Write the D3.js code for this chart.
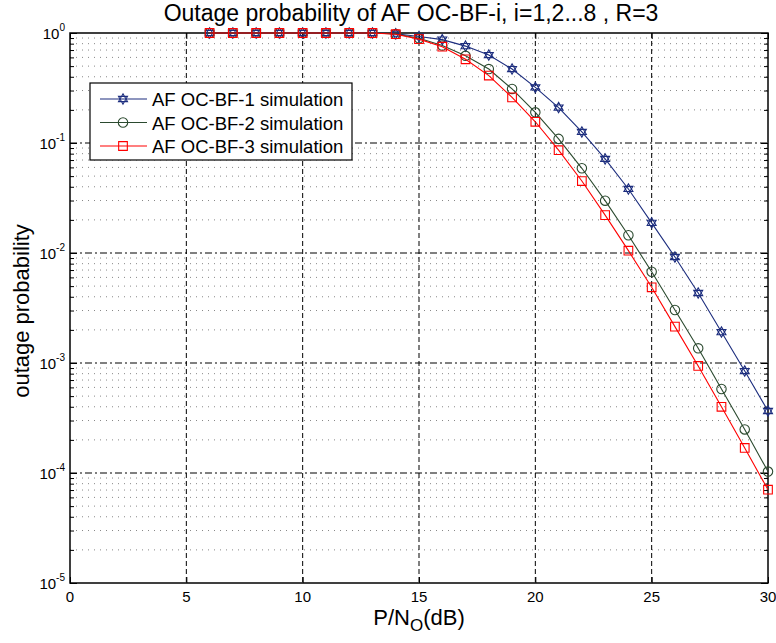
<!DOCTYPE html>
<html>
<head>
<meta charset="utf-8">
<script src="https://cdn.jsdelivr.net/npm/d3@7"></script>
<style>
  body { margin: 0; background: #fff; }
  svg { font-family: "Liberation Sans", Arial, sans-serif; }
</style>
</head>
<body>
<svg id="chart" width="776" height="643"></svg>
<script>
const snr = [6, 7, 8, 9, 10, 11, 12, 13, 14, 15, 16, 17, 18, 19, 20, 21, 22, 23, 24, 25, 26, 27, 28, 29, 30];
const bf1 = [1, 1, 1, 1, 1, 1, 1, 1, 0.985, 0.93, 0.87, 0.76, 0.63, 0.47, 0.32, 0.21, 0.126, 0.0716, 0.0382, 0.0188, 0.0092, 0.00433, 0.00191, 0.000845, 0.000366];
const bf2 = [1, 1, 1, 1, 1, 1, 1, 1, 0.98, 0.895, 0.77, 0.62, 0.47, 0.31, 0.19, 0.109, 0.0589, 0.0299, 0.0145, 0.00676, 0.00303, 0.00136, 0.00058, 0.000249, 0.000103];
const bf3 = [1, 1, 1, 1, 1, 1, 1, 1, 0.975, 0.88, 0.75, 0.577, 0.41, 0.26, 0.156, 0.086, 0.0451, 0.0221, 0.0105, 0.00488, 0.00214, 0.00094, 0.0004, 0.000169, 0.0000705];
const seriesNames = ["AF OC-BF-1 simulation", "AF OC-BF-2 simulation", "AF OC-BF-3 simulation"];
const seriesColors = ["#1c2d7e", "#2b4a2f", "#ff0000"];
const seriesMarkers = ["hexagram", "circle", "square"];
const xTicks = [0, 5, 10, 15, 20, 25, 30];
const yExps = [0, -1, -2, -3, -4, -5];

const svg = d3.select("#chart");
const pLeft = 70, pRight = 768, pTop = 33, pBottom = 583;

const x = d3.scaleLinear().domain([0, 30]).range([pLeft, pRight]);
const y = d3.scaleLog().domain([1e-5, 1]).range([pBottom, pTop]);

// minor grid (dotted)
const minors = [];
for (let e = -5; e < 0; e++) for (let m = 2; m <= 9; m++) minors.push(m * Math.pow(10, e));

const grid = svg.append("g");
grid.selectAll(".minor").data(minors).enter().append("line")
    .attr("x1", pLeft).attr("x2", pRight)
    .attr("y1", d => y(d)).attr("y2", d => y(d))
    .attr("stroke", "#888").attr("stroke-width", 1)
    .attr("stroke-dasharray", "1,5");

// major grid
grid.selectAll(".majy").data(yExps.slice(1, 5)).enter().append("line")
    .attr("x1", pLeft).attr("x2", pRight)
    .attr("y1", d => y(Math.pow(10, d))).attr("y2", d => y(Math.pow(10, d)))
    .attr("stroke", "#000").attr("stroke-width", 1)
    .attr("stroke-dasharray", "7,3,2,3");
grid.selectAll(".majx").data(xTicks.slice(1, 6)).enter().append("line")
    .attr("x1", d => x(d)).attr("x2", d => x(d))
    .attr("y1", pTop).attr("y2", pBottom)
    .attr("stroke", "#000").attr("stroke-width", 1)
    .attr("stroke-dasharray", "5,3");

// axes (ticks inside, on all four sides)
const fmtNone = () => "";
const decades = yExps.map(e => Math.pow(10, e));
svg.append("g").attr("transform", `translate(0,${pBottom})`)
    .call(d3.axisBottom(x).tickValues(xTicks).tickSize(-6).tickFormat(fmtNone))
    .call(g => g.select(".domain").remove());
svg.append("g").attr("transform", `translate(0,${pTop})`)
    .call(d3.axisTop(x).tickValues(xTicks).tickSize(-6).tickFormat(fmtNone))
    .call(g => g.select(".domain").remove());
svg.append("g").attr("transform", `translate(${pLeft},0)`)
    .call(d3.axisLeft(y).tickValues(minors).tickSize(-4).tickFormat(fmtNone))
    .call(g => g.select(".domain").remove());
svg.append("g").attr("transform", `translate(${pRight},0)`)
    .call(d3.axisRight(y).tickValues(minors).tickSize(-4).tickFormat(fmtNone))
    .call(g => g.select(".domain").remove());
svg.append("g").attr("transform", `translate(${pLeft},0)`)
    .call(d3.axisLeft(y).tickValues(decades).tickSize(-7).tickFormat(fmtNone))
    .call(g => g.select(".domain").remove());
svg.append("g").attr("transform", `translate(${pRight},0)`)
    .call(d3.axisRight(y).tickValues(decades).tickSize(-7).tickFormat(fmtNone))
    .call(g => g.select(".domain").remove());
svg.selectAll(".tick line").attr("stroke", "#000");

svg.append("rect").attr("x", pLeft).attr("y", pTop)
    .attr("width", pRight - pLeft).attr("height", pBottom - pTop)
    .attr("fill", "none").attr("stroke", "#000").attr("stroke-width", 1.5);

// tick labels
svg.selectAll(".xlab").data(xTicks).enter().append("text")
    .attr("x", d => x(d)).attr("y", pBottom + 19)
    .attr("text-anchor", "middle").attr("font-size", 15).text(d => d);

const ylab = svg.selectAll(".ylab").data(yExps).enter().append("text")
    .attr("x", pLeft - 5).attr("y", d => y(Math.pow(10, d)) + 6)
    .attr("text-anchor", "end").attr("font-size", 15);
ylab.append("tspan").text("10");
ylab.append("tspan").attr("dy", -8).attr("font-size", 10).text(d => d);

// title and axis labels
svg.append("text").attr("x", 411).attr("y", 21).attr("text-anchor", "middle")
    .attr("font-size", 23).text("Outage probability of AF OC-BF-i, i=1,2...8 , R=3");
const xl = svg.append("text").attr("x", 419).attr("y", 625).attr("text-anchor", "middle").attr("font-size", 22);
xl.append("tspan").text("P/N");
xl.append("tspan").attr("dy", 6).attr("font-size", 17).text("O");
xl.append("tspan").attr("dy", -6).text("(dB)");
svg.append("text").attr("transform", "translate(29,311) rotate(-90)")
    .attr("text-anchor", "middle").attr("font-size", 22).text("outage probability");

// markers
const hexagram = {
  draw(ctx, size) {
    const r = Math.sqrt(size) * 0.62;
    for (let t = 0; t < 2; t++) {
      for (let i = 0; i < 3; i++) {
        const a = -Math.PI / 2 + t * Math.PI + i * 2 * Math.PI / 3;
        const px = r * Math.cos(a), py = r * Math.sin(a);
        if (i === 0) ctx.moveTo(px, py); else ctx.lineTo(px, py);
      }
      ctx.closePath();
    }
  }
};
const symbolFor = {
  hexagram: d3.symbol().type(hexagram).size(70),
  circle: d3.symbol().type(d3.symbolCircle).size(70),
  square: d3.symbol().type(d3.symbolSquare).size(75)
};

const allSeries = [bf1, bf2, bf3];
const line = d3.line().x(d => x(d[0])).y(d => y(d[1]));

allSeries.forEach((vals, i) => {
  const pts = snr.map((s, j) => [s, vals[j]]);
  svg.append("path").datum(pts).attr("d", line)
      .attr("fill", "none").attr("stroke", seriesColors[i]).attr("stroke-width", 1.1);
  svg.selectAll(".m" + i).data(pts).enter().append("path")
      .attr("transform", d => `translate(${x(d[0])},${y(d[1])})`)
      .attr("d", symbolFor[seriesMarkers[i]])
      .attr("fill", "none").attr("stroke", seriesColors[i]).attr("stroke-width", 1.1);
});

// legend
const lg = svg.append("g");
lg.append("rect").attr("x", 90).attr("y", 83).attr("width", 262).attr("height", 77)
    .attr("fill", "#fff").attr("stroke", "#000").attr("stroke-width", 1.2);
seriesNames.forEach((name, i) => {
  const ly = 99 + i * 23.5;
  lg.append("line").attr("x1", 100).attr("x2", 147).attr("y1", ly).attr("y2", ly)
      .attr("stroke", seriesColors[i]).attr("stroke-width", 1.1);
  lg.append("path").attr("transform", `translate(123,${ly})`)
      .attr("d", symbolFor[seriesMarkers[i]])
      .attr("fill", "none").attr("stroke", seriesColors[i]).attr("stroke-width", 1.1);
  lg.append("text").attr("x", 152).attr("y", ly + 7).attr("font-size", 18.5).text(name);
});
</script>
</body>
</html>
